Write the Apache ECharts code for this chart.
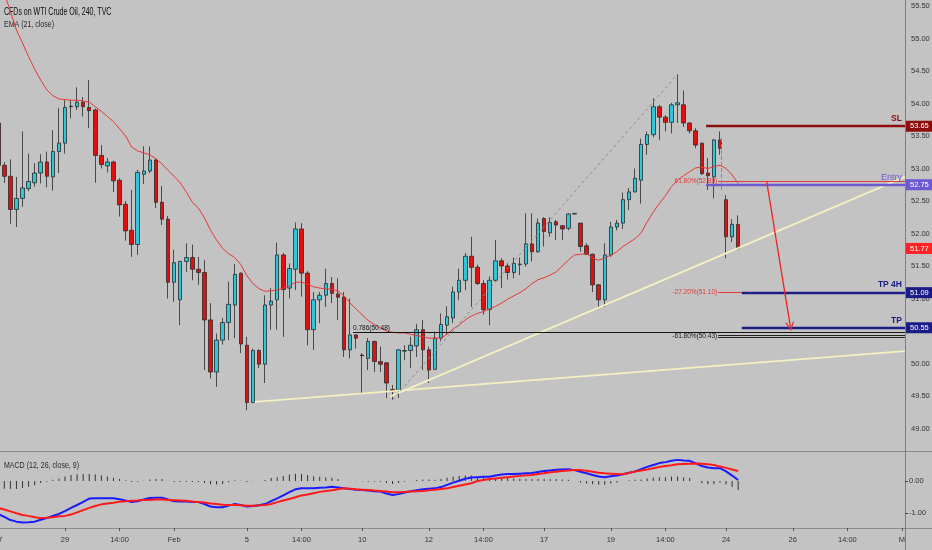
<!DOCTYPE html>
<html><head><meta charset="utf-8">
<script src="https://cdn.jsdelivr.net/npm/echarts@6/dist/echarts.min.js"></script>
<style>html,body{margin:0;padding:0;background:#c3c3c3;overflow:hidden}#c{width:932px;height:550px}</style>
</head><body><div id="c"></div><script>
// ---------- data ----------
const opens = [53.70,53.05,52.88,52.37,52.54,52.69,52.78,52.93,53.10,52.87,53.26,53.39,53.95,53.95,54.02,53.94,53.90,53.20,53.04,53.10,52.82,52.45,52.05,51.83,52.91,52.96,53.13,52.48,52.22,51.25,50.98,51.57,51.63,51.45,51.40,50.67,49.87,50.36,50.63,50.90,51.39,50.28,49.40,50.20,49.99,50.90,50.98,51.67,51.16,51.45,52.07,51.39,50.52,50.98,51.05,51.23,51.07,51.02,50.21,50.44,50.13,50.08,50.34,50.03,50.01,49.60,49.59,50.19,50.20,50.27,50.52,50.21,49.91,50.39,50.59,50.70,51.10,51.28,51.65,51.48,51.23,50.83,51.28,51.58,51.50,51.40,51.52,51.53,51.84,51.72,52.23,52.01,52.18,52.12,52.08,52.30,52.16,51.81,51.68,51.21,50.98,51.67,52.10,52.16,52.52,52.64,52.82,53.37,53.52,53.95,53.79,53.71,53.98,53.98,53.70,53.58,53.39,52.93,52.87,53.44,52.52,51.95,52.14];
const closes = [53.05,52.88,52.37,52.54,52.70,52.80,52.93,53.10,52.88,53.26,53.39,53.94,53.96,54.02,53.95,53.89,53.20,53.06,53.10,52.81,52.44,52.04,51.83,52.94,52.96,53.13,52.48,52.22,51.25,51.55,51.57,51.63,51.45,51.40,50.67,49.87,50.36,50.63,50.91,51.37,50.30,49.40,50.20,49.99,50.90,50.96,51.67,51.14,51.46,52.07,51.39,50.52,50.98,51.05,51.23,51.08,51.02,50.21,50.44,50.39,50.12,50.34,50.03,49.99,49.70,49.57,50.21,50.20,50.28,50.52,50.21,49.90,50.39,50.60,50.72,51.10,51.28,51.65,51.48,51.23,50.83,51.28,51.58,51.50,51.40,51.54,51.53,51.84,51.72,52.16,52.03,52.17,52.13,52.07,52.30,52.31,51.80,51.68,51.21,50.98,51.67,52.10,52.16,52.52,52.64,52.85,53.37,53.52,53.95,53.79,53.71,53.98,54.01,53.70,53.58,53.36,52.92,52.89,53.44,53.31,51.95,52.14,51.77];
const lows = [53.00,52.78,52.15,52.10,52.41,52.65,52.72,52.77,52.71,52.66,52.93,53.23,53.77,53.90,53.80,53.62,52.78,53.00,52.94,52.64,52.26,51.89,51.64,51.67,52.76,52.93,52.39,52.13,51.00,50.95,50.59,51.41,51.28,51.21,49.90,49.77,49.64,50.29,50.36,50.39,50.16,49.28,49.39,49.93,49.70,50.52,50.52,50.41,51.00,51.13,51.03,50.28,50.21,50.62,50.87,50.93,50.67,50.10,50.08,50.23,49.54,49.90,49.87,49.87,49.47,49.44,49.47,50.05,49.93,50.10,49.90,49.70,49.90,50.34,50.44,50.62,50.98,51.13,50.87,51.21,50.75,50.59,51.26,51.16,51.29,51.31,51.36,51.49,51.57,51.70,51.80,51.95,51.90,51.90,52.05,52.29,51.72,51.67,51.10,50.85,50.87,51.64,52.05,52.07,52.36,52.63,52.46,53.21,53.48,53.44,53.57,53.54,53.70,53.64,53.54,53.31,52.90,52.67,52.54,53.21,51.62,51.87,51.75];
const highs = [53.78,53.10,53.14,52.87,53.57,53.23,53.08,53.22,53.26,53.59,53.93,54.05,54.05,54.25,54.10,54.36,53.92,53.36,53.16,53.12,52.85,52.50,52.67,52.98,53.34,53.34,53.15,52.73,52.27,51.75,51.58,51.85,51.83,51.64,51.59,50.93,50.46,50.70,51.26,51.53,51.40,50.41,50.23,50.22,51.05,51.16,51.86,51.70,51.54,52.17,52.16,51.42,51.10,51.10,51.46,51.33,51.31,51.10,51.00,50.45,50.16,50.39,50.35,50.26,50.02,49.67,50.22,50.28,50.41,50.61,50.67,50.26,50.49,50.77,50.88,51.18,51.46,51.70,51.95,51.52,51.28,51.34,51.90,51.62,51.54,51.63,51.63,52.31,52.31,52.23,52.25,52.25,52.21,52.13,52.31,52.31,52.16,51.85,51.69,51.22,51.85,52.18,52.21,52.63,52.70,53.00,53.46,53.57,54.08,53.98,53.82,54.01,54.45,54.20,53.71,53.62,53.40,53.16,53.45,53.57,52.59,52.22,52.28];
const ema21 = [55.98,55.70,55.42,55.13,54.93,54.72,54.53,54.36,54.21,54.12,54.07,54.06,54.05,54.05,54.04,54.02,53.95,53.88,53.80,53.72,53.61,53.50,53.33,53.27,53.24,53.21,53.15,53.07,52.97,52.88,52.78,52.64,52.48,52.39,52.24,52.05,51.90,51.77,51.69,51.63,51.52,51.35,51.23,51.15,51.11,51.12,51.13,51.16,51.19,51.25,51.25,51.22,51.18,51.16,51.15,51.14,51.12,51.04,50.93,50.84,50.75,50.66,50.60,50.55,50.50,50.48,50.47,50.47,50.45,50.43,50.41,50.39,50.39,50.39,50.45,50.53,50.59,50.67,50.73,50.77,50.80,50.84,50.88,50.93,50.99,51.04,51.09,51.15,51.23,51.29,51.32,51.36,51.41,51.50,51.59,51.67,51.68,51.69,51.62,51.59,51.62,51.67,51.72,51.80,51.86,51.92,52.01,52.18,52.33,52.46,52.58,52.72,52.82,52.89,52.95,53.01,53.02,53.00,53.03,53.05,53.00,52.90,52.77];
const macdLine = [-1.03,-1.12,-1.22,-1.27,-1.30,-1.29,-1.27,-1.21,-1.16,-1.09,-1.03,-0.94,-0.84,-0.75,-0.65,-0.55,-0.54,-0.54,-0.54,-0.54,-0.57,-0.61,-0.66,-0.63,-0.58,-0.53,-0.52,-0.52,-0.58,-0.63,-0.64,-0.64,-0.66,-0.66,-0.72,-0.80,-0.82,-0.82,-0.77,-0.72,-0.75,-0.80,-0.78,-0.76,-0.72,-0.63,-0.54,-0.45,-0.35,-0.26,-0.23,-0.23,-0.23,-0.21,-0.20,-0.18,-0.20,-0.23,-0.25,-0.27,-0.28,-0.30,-0.32,-0.33,-0.39,-0.44,-0.41,-0.36,-0.32,-0.29,-0.26,-0.24,-0.23,-0.19,-0.12,-0.05,0.01,0.07,0.11,0.12,0.13,0.13,0.17,0.20,0.22,0.22,0.23,0.24,0.25,0.28,0.31,0.33,0.35,0.36,0.37,0.34,0.29,0.24,0.19,0.14,0.12,0.15,0.17,0.21,0.26,0.30,0.37,0.44,0.50,0.56,0.59,0.63,0.66,0.64,0.63,0.55,0.47,0.42,0.40,0.40,0.30,0.17,0.03];
const signalLine = [-0.84,-0.89,-0.95,-1.01,-1.06,-1.09,-1.13,-1.16,-1.15,-1.13,-1.10,-1.09,-1.05,-0.98,-0.91,-0.84,-0.78,-0.73,-0.70,-0.68,-0.65,-0.63,-0.62,-0.61,-0.59,-0.59,-0.58,-0.58,-0.59,-0.60,-0.61,-0.62,-0.64,-0.66,-0.67,-0.70,-0.72,-0.74,-0.75,-0.75,-0.76,-0.77,-0.77,-0.76,-0.75,-0.72,-0.66,-0.61,-0.56,-0.51,-0.45,-0.42,-0.38,-0.34,-0.31,-0.29,-0.26,-0.23,-0.24,-0.26,-0.27,-0.28,-0.30,-0.31,-0.33,-0.35,-0.35,-0.34,-0.33,-0.32,-0.31,-0.29,-0.27,-0.25,-0.23,-0.19,-0.15,-0.11,-0.07,0.00,0.03,0.06,0.08,0.10,0.12,0.14,0.16,0.18,0.19,0.22,0.24,0.27,0.29,0.31,0.33,0.34,0.34,0.32,0.29,0.26,0.24,0.23,0.22,0.21,0.25,0.30,0.33,0.36,0.40,0.44,0.47,0.49,0.52,0.53,0.54,0.55,0.54,0.52,0.50,0.45,0.41,0.36,0.31];
const macdHist = [-0.20,-0.24,-0.25,-0.25,-0.22,-0.18,-0.13,-0.06,-0.02,0.04,0.08,0.14,0.19,0.21,0.22,0.22,0.20,0.17,0.14,0.10,0.06,0.02,-0.03,-0.02,0.01,0.05,0.06,0.06,0.01,-0.03,-0.03,-0.03,-0.03,-0.03,-0.06,-0.10,-0.11,-0.09,-0.04,0.02,0.01,-0.03,-0.01,0.00,0.03,0.09,0.12,0.16,0.20,0.23,0.22,0.19,0.15,0.13,0.11,0.10,0.06,0.00,-0.01,-0.01,-0.01,-0.02,-0.02,-0.02,-0.06,-0.09,-0.06,-0.02,0.01,0.03,0.05,0.05,0.04,0.06,0.10,0.14,0.16,0.17,0.17,0.12,0.10,0.08,0.09,0.09,0.10,0.08,0.07,0.06,0.06,0.06,0.06,0.06,0.06,0.05,0.04,0.00,-0.05,-0.08,-0.10,-0.12,-0.12,-0.08,-0.05,0.00,0.02,0.04,0.05,0.08,0.10,0.12,0.12,0.14,0.14,0.11,0.09,0.00,-0.07,-0.10,-0.10,-0.05,-0.11,-0.19,-0.28];
const slotCount = 150;
const timeLabelIdx = [0,11,20,29,41,50,60,71,80,90,101,110,120,131,140,149];
const timeLabels = ['27','29','14:00','Feb','5','14:00','10','12','14:00','17','19','14:00','24','26','14:00','M'];
const priceTicks = [49,49.5,50,50.5,51,51.5,52,52.5,53,53.5,54,54.5,55,55.5];
const macdTicks = [0,-1];
// drawing annotations (slot index, price)
const trendLines = [[42.3,49.41,149.5,50.19],[64.6,49.49,149.5,52.87]];
const fibDiagonal = [65,49.44,112,54.45];
const fibVertical = [119.2,53.47,52.64];
const tradeNames = ['SL','Entry','TP 4H','TP'];
const tradePrices = [53.65,52.75,51.09,50.55];
const tradeStart = [116.7,116.7,122.6,122.6];
const fibTexts = ['61.80%(52.80)','-27.20%(51.10)','0.786(50.48)','-61.80%(50.43)'];
const fibPrices = [52.80,51.10,50.48,50.42];
const fibStart = [118.7,118.7,58.5,118.7];
const fibEnd = [149.5,122.6,149.5,149.5];
const lastPrice = 51.77;
const arrowPath = [126.7,52.80,130.6,50.57];

// ---------- chart ----------
const F = "'Liberation Sans',Arial,sans-serif";
const categories = Array.from({length: slotCount}, (_, i) => String(i));
const chart = echarts.init(document.getElementById('c'), null, {renderer: 'canvas'});

const tradeColors = ['#8e0c0c','#6c5bd0','#1c1c86','#1c1c86'];
const fibColors = ['#e23a3a','#e23a3a','#151515','#151515'];
const GRID_L = -4.78, GRID_W = 909.75;
const CLEAR = 'rgba(0,0,0,0)';

const ml = [];
function seg(x1,y1,x2,y2,ls,label,endSym){
  ml.push([
    {coord:[x1,y1], lineStyle:Object.assign({type:'solid'},ls), label: label || {show:false}, symbol:'none'},
    {coord:[x2,y2], symbol: endSym ? endSym.symbol : 'none', symbolSize: endSym ? endSym.size : 0}
  ]);
}
const tagLabel = (txt,bg)=>({show:true, position:'end', formatter: txt, color:'#fff', backgroundColor: bg,
  padding:[2,4,1,4], lineHeight:8, fontSize:7.5, fontFamily:F, distance:1});
// fib lines
fibPrices.forEach((p,k)=>{
  const col = fibColors[k];
  let lab;
  if (k === 2) lab = {show:true, position:'insideStartTop', formatter: fibTexts[k], color:'#111', fontSize:6.5, fontFamily:F, distance:[0,1]};
  else lab = {show:true, position:'start', formatter: fibTexts[k], color: col, fontSize:6.5, fontFamily:F, distance:1};
  if (k === 3) {
    seg(fibStart[k],p,fibEnd[k],p,{color:'#222',width:3.2},lab);
    seg(fibStart[k],p,fibEnd[k],p,{color:'#c3c3c3',width:1.2},null);
  } else {
    seg(fibStart[k],p,fibEnd[k],p,{color:col,width:1},lab);
  }
});
// trade levels with right-axis price tags
tradePrices.forEach((p,k)=>{
  seg(tradeStart[k],p,149.5,p,{color:tradeColors[k],width:2.4}, tagLabel(p.toFixed(2), tradeColors[k]));
  seg(tradeStart[k],p,149.5,p,{color:CLEAR,width:0.1},
    {show:true, position:'insideEndTop', formatter: tradeNames[k], color: tradeColors[k],
     fontSize: k===1 ? 9 : 8.5, fontWeight: k===1 ? 'normal' : 'bold', fontFamily:F, distance:[3,3]});
});
// last price tag
seg(148.5,lastPrice,149.5,lastPrice,{color:CLEAR,width:0.1}, tagLabel(lastPrice.toFixed(2), '#ff2222'));
// fib vertical dashed
seg(fibVertical[0],fibVertical[1],fibVertical[0],fibVertical[2],{color:'#8a8a8a',width:1,type:'dashed'},null);
// arrow
seg(arrowPath[0],arrowPath[1],arrowPath[2],arrowPath[3],{color:'#ee2020',width:1.3},null,
  {symbol:'path://M5,0 L10,9 L8.7,9 L5,2.8 L1.3,9 L0,9 Z', size:[9,9]});

const headText = (txt, top, col, size, sx)=>({type:'text', left:4, top:top, scaleX:sx, silent:true,
  style:{text:txt, fill:col, font:size + 'px ' + F}});

const option = {
  backgroundColor: '#c3c3c3',
  animation: false,
  textStyle: {fontFamily: F},
  grid: [
    {left:GRID_L, top:0, width:GRID_W, height:451, outerBoundsMode:'none', containLabel:false},
    {left:GRID_L, top:452, width:GRID_W, height:76, outerBoundsMode:'none', containLabel:false}
  ],
  xAxis: [
    {gridIndex:0, type:'category', data:categories, boundaryGap:true, axisLine:{show:false, onZero:false}, axisTick:{show:false}, axisLabel:{show:false}, splitLine:{show:false}},
    {gridIndex:1, type:'category', data:categories, boundaryGap:true, position:'bottom', axisLine:{show:false, onZero:false},
     axisTick:{show:true, alignWithLabel:true, length:3, interval:(i)=>timeLabelIdx.includes(i), lineStyle:{color:'#555'}},
     axisLabel:{show:true, interval:(i)=>timeLabelIdx.includes(i), formatter:(v,i)=>timeLabels[timeLabelIdx.indexOf(i)] || '', fontSize:7.5, color:'#333', fontFamily:F, margin:8},
     splitLine:{show:false}},
    {gridIndex:0, type:'value', min:-0.5, max:149.5, show:false}
  ],
  yAxis: [
    {gridIndex:0, type:'value', position:'right', min:48.654, max:55.592, splitLine:{show:false}, axisLine:{show:false}, axisTick:{show:false},
     axisLabel:{show:true, customValues:priceTicks, formatter:(v)=>v.toFixed(2), fontSize:7.5, color:'#333', fontFamily:F, margin:6}},
    {gridIndex:1, type:'value', position:'right', min:-1.46875, max:0.90625, splitLine:{show:false}, axisLine:{show:false},
     axisTick:{show:true, customValues:macdTicks, length:3, lineStyle:{color:'#444'}},
     axisLabel:{show:true, customValues:macdTicks, formatter:(v)=>v.toFixed(2), fontSize:7.5, color:'#333', fontFamily:F, margin:4}}
  ],
  series: [
    {type:'candlestick', name:'WTI', xAxisIndex:0, yAxisIndex:0, barWidth:4,
     data: opens.map((o,i)=>[o, closes[i], lows[i], highs[i]]),
     itemStyle:{color:'#2fc6da', color0:'#e01010', borderColor:'#2a2a2a', borderColor0:'#2a2a2a', borderWidth:0.8}},
    {type:'line', name:'EMA', xAxisIndex:0, yAxisIndex:0, data: ema21, symbol:'none', smooth:false,
     lineStyle:{color:'#e53935', width:1}},
    {type:'line', name:'trend1', xAxisIndex:2, yAxisIndex:0, symbol:'none', clip:false,
     data:[[trendLines[0][0],trendLines[0][1]],[trendLines[0][2],trendLines[0][3]]],
     lineStyle:{color:'#f4f0c2', width:1.8},
     markLine:{silent:true, symbol:['none','none'], animation:false, label:{show:false}, lineStyle:{type:'solid'}, data: ml}},
    {type:'line', name:'trend2', xAxisIndex:2, yAxisIndex:0, symbol:'none',
     data:[[trendLines[1][0],trendLines[1][1]],[trendLines[1][2],trendLines[1][3]]],
     lineStyle:{color:'#f4f0c2', width:1.8}},
    {type:'line', name:'fibDiag', xAxisIndex:2, yAxisIndex:0, symbol:'none',
     data:[[fibDiagonal[0],fibDiagonal[1]],[fibDiagonal[2],fibDiagonal[3]]],
     lineStyle:{color:'#8c8c8c', width:1, type:[3,3]}},
    {type:'bar', name:'hist', xAxisIndex:1, yAxisIndex:1, data: macdHist, barWidth:1, itemStyle:{color:'#333'}},
    {type:'line', name:'MACD', xAxisIndex:1, yAxisIndex:1, data: macdLine, symbol:'none', lineStyle:{color:'#1a1aff', width:2}},
    {type:'line', name:'Signal', xAxisIndex:1, yAxisIndex:1, data: signalLine, symbol:'none', lineStyle:{color:'#ff1a1a', width:2}}
  ],
  graphic: [
    {type:'rect', silent:true, shape:{x:0, y:451, width:932, height:1}, style:{fill:'#8a8a8a'}},
    {type:'rect', silent:true, shape:{x:0, y:528, width:932, height:1}, style:{fill:'#8a8a8a'}},
    {type:'rect', silent:true, shape:{x:905, y:0, width:1, height:550}, style:{fill:'#7c7c7c'}},
    headText('CFDs on WTI Crude Oil, 240, TVC', 7, '#0a0a0a', 10, 0.7),
    headText('EMA (21, close)', 19.5, '#2a2a2a', 9.5, 0.74),
    headText('MACD (12, 26, close, 9)', 460.5, '#2a2a2a', 9.5, 0.74)
  ]
};
chart.setOption(option);
</script></body></html>
